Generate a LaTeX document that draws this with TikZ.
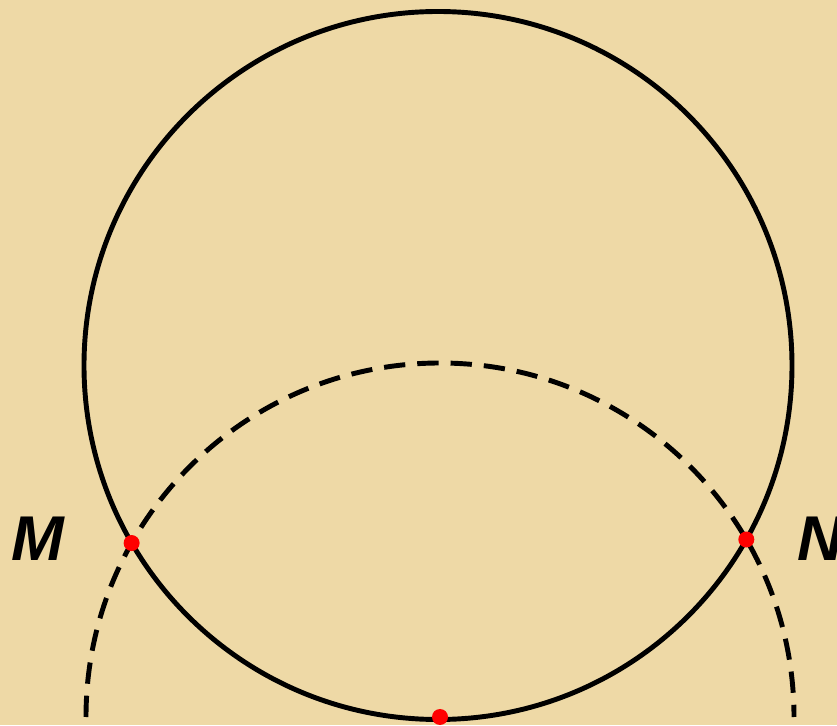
\documentclass[tikz,border=0pt]{standalone}
\usepackage{fontspec}
\newfontfamily\lblfont{Liberation Sans}
\usepackage{tikz}
\usetikzlibrary{intersections,calc}
\definecolor{papyrus}{RGB}{238,217,166}

\begin{document}
\begin{tikzpicture}[x=0.03cm, y=0.03cm,
  curve/.style={line width=4.2pt},
  dashcurve/.style={curve, dash pattern=on 0.64cm off 0.36cm},
  dot/.style={circle, fill=red, inner sep=0pt, minimum size=0.48cm},
  lbl/.style={font=\lblfont\bfseries\itshape\fontsize{54}{54}\selectfont, inner sep=0pt}]
  % background
  \clip (0,0) rectangle (837,725);
  \fill[papyrus] (0,0) rectangle (837,725);
  % circle and arc about its lowest point
  \coordinate (O) at (438,359.5);
  \coordinate (P) at (440,8);
  \draw[curve, name path=big] (O) circle[radius=354];
  \draw[dashcurve, name path=arc] ($(P)+(-354,0)$) arc[start angle=180, end angle=0, radius=354];
  \path[name intersections={of=big and arc, by={M,N}}];
  \node[dot] (pM) at (M) {};
  \node[dot] (pN) at (N) {};
  \node[dot] (pP) at (P) {};
  \node[lbl] (lM) at (38,186) {M};
  \node[lbl] (lN) at (820,186) {N};
\end{tikzpicture}
\end{document}
